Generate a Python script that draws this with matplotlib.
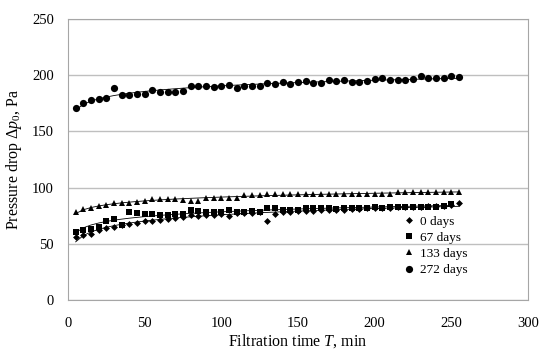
import numpy as np
import matplotlib.pyplot as plt

plt.rcParams['font.family'] = 'Liberation Serif'
plt.rcParams['mathtext.fontset'] = 'custom'
plt.rcParams['mathtext.rm'] = 'Liberation Serif'
plt.rcParams['mathtext.it'] = 'Liberation Serif:italic'

# filtration time, min
t = np.arange(5, 256, 5)
t67 = np.arange(5, 251, 5)

# pressure drop, Pa
d0 = [56.5, 58, 58.5, 62, 64.5, 65, 66.5, 68, 69, 70,
      70.5, 71, 72.5, 73, 74, 75.5, 75, 75.5, 76, 76.5,
      74.5, 77.5, 77.5, 77.5, 78, 70, 77, 78.5, 78.5, 79,
      79.5, 79.5, 80, 80, 80.5, 80.5, 81, 81, 81.5, 81.5,
      82, 82, 82.5, 82.5, 83, 83, 83.5, 84, 84, 85, 86]
d67 = [61, 62.5, 63, 65, 70.5, 72, 67, 78, 77.5, 77,
       77, 75.5, 75.5, 76.5, 76.5, 80, 79, 78.5, 78, 78.5,
       80.5, 78.5, 78.5, 79.5, 78.5, 82, 82, 80.5, 80.5, 80.5,
       82, 82, 82, 81.5, 81, 81.5, 82, 82, 82, 82.5,
       82, 82.5, 82.5, 82.5, 82.5, 83, 82.5, 83, 84, 85.5]
d133 = [78.5, 81, 82, 83.5, 85, 86, 86, 86.5, 87.5, 88,
        89.5, 89.5, 89.5, 89.5, 89, 88.5, 88, 90.5, 90.5, 90.5,
        90.5, 90.5, 93.5, 93.5, 93.5, 94.5, 94.5, 94.5, 94.5, 94.5,
        94.5, 94.5, 94.5, 94.5, 94.5, 94.5, 94.5, 94.5, 94.5, 94.5,
        94.5, 94.5, 96, 96, 96, 96, 96, 96, 96, 96.5, 96.5]
d272 = [170.5, 175.5, 178, 178.5, 179.5, 189, 182.5, 182.5, 183, 183.5,
        187, 185, 185.5, 185.5, 186, 190, 190, 190, 189.5, 190,
        191.5, 188.5, 190, 190.5, 190.5, 193.3, 192.2, 194, 192.2, 194,
        194.6, 193.3, 193.3, 195.7, 194.6, 196, 194.2, 194, 194.8, 196.9,
        197.5, 195.7, 195.4, 196, 196.9, 199.3, 197.8, 197.5, 197.8, 199, 198.7]

labels = ['0 days', '67 days', '133 days', '272 days']

fig = plt.figure(figsize=(5.5, 3.59), dpi=100)
ax = fig.add_axes([0.1236, 0.164, 0.8364, 0.783])

series = [(t, d0, 'D', 3.5), (t67, d67, 's', 4.6),
          (t, d133, '^', 5.0), (t, d272, 'o', 5.2)]
for (x, y, m, ms), lab in zip(series, labels):
    ax.plot(x, y, linestyle='none', marker=m, markersize=ms, color='black',
            markeredgewidth=0, label=lab, zorder=3)
    # logarithmic trendline
    a, b = np.polyfit(np.log(x), y, 1)
    ax.plot(x, a * np.log(x) + b, color='black', linewidth=0.6, zorder=2)

ax.set_xlim(0, 300)
ax.set_ylim(0, 250)
ax.set_xticks(np.arange(0, 301, 50))
ax.set_yticks(np.arange(0, 251, 50))
ax.yaxis.grid(True, color='#bfbfbf', linewidth=1)
ax.set_axisbelow(True)
for s in ax.spines.values():
    s.set_color('#a6a6a6')
ax.tick_params(length=0, labelsize=10.5, colors='black')
ax.tick_params(axis='x', pad=12)
ax.tick_params(axis='y', pad=10)

ax.set_xlabel('Filtration time $T$, min', fontsize=11.5, labelpad=2)
ax.set_ylabel(r'Pressure drop $\Delta p_0$, Pa', fontsize=11.5, labelpad=6)

ax.legend(loc='upper left', bbox_to_anchor=(0.713, 0.32), frameon=False,
          fontsize=9.5, handletextpad=0.2, labelspacing=0.3, handlelength=1.2,
          borderaxespad=0)

fig.savefig('out.png', dpi=100)
